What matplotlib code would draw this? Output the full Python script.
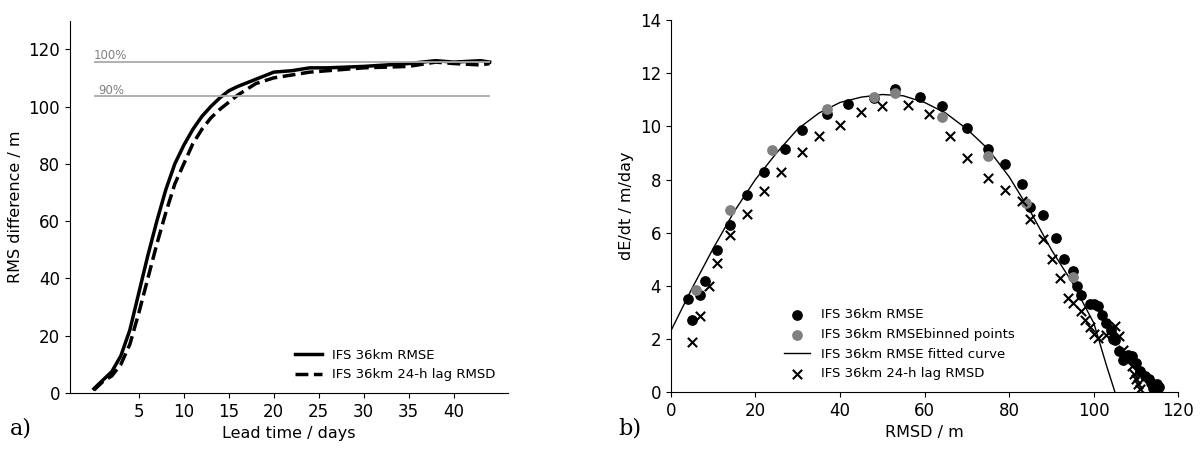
import matplotlib.pyplot as plt
import numpy as np

# panel a: RMS growth
lead_days = [0, 1, 2, 3, 4, 5, 6, 7, 8, 9, 10, 11, 12, 13, 14, 15, 16, 18, 20, 22, 24, 26, 30, 35, 38, 40, 43, 44]
rmse = [1.5, 4.5, 7.5, 13, 22, 35, 48, 60, 71, 80, 86.5, 92, 96.5, 100, 103, 105.5, 107, 109.5, 112, 112.5, 113.5, 113.5, 114, 115, 116, 115.5, 116, 115.5]
lag_rmsd = [1, 4, 6, 10, 17, 28, 40, 52, 63, 73, 80, 87, 92, 96, 99, 101.5, 104, 108, 110, 111, 112, 112.5, 113.5, 114, 115.5, 115, 114.5, 115]
level_100 = 115.5
level_90 = 103.5

# panel b: error growth rate
dot_x = [4, 5, 7, 8, 11, 14, 18, 22, 27, 31, 37, 42, 48, 53, 59, 64, 70, 75, 79, 83, 85, 88, 91, 93, 95, 96, 97, 99, 100, 101,
         102, 103, 104, 104.5, 105, 106, 107, 108, 109, 110, 111, 112, 113, 113.5, 114, 115, 115.5, 114]
dot_y = [3.5, 2.7, 3.65, 4.2, 5.35, 6.3, 7.4, 8.3, 9.15, 9.85, 10.45, 10.85, 11.05, 11.4, 11.1, 10.75, 9.95, 9.15, 8.6, 7.85,
         6.95, 6.65, 5.8, 5.0, 4.55, 4.0, 3.65, 3.3, 3.3, 3.25, 2.9, 2.6, 2.35, 2.0, 1.95, 1.55, 1.2, 1.4, 1.35, 1.1, 0.8, 0.6,
         0.5, 0.35, 0.3, 0.3, 0.2, 0.15]
bin_x = [6, 14, 24, 37, 48, 53, 64, 75, 84, 95]
bin_y = [3.85, 6.85, 9.1, 10.65, 11.1, 11.25, 10.35, 8.9, 7.1, 4.35]
fit_x = [0, 5, 10, 15, 20, 25, 30, 35, 40, 45, 50, 55, 60, 65, 70, 75, 80, 85, 90, 95, 100, 103, 105]
fit_y = [2.3, 3.9, 5.4, 6.8, 8.0, 9.0, 9.9, 10.5, 10.9, 11.1, 11.2, 11.15, 10.9, 10.5, 9.9, 9.15, 8.1, 6.8, 5.35, 4.1, 2.6, 1.0, 0.0]
cross_x = [5, 7, 9, 11, 14, 18, 22, 26, 31, 35, 40, 45, 50, 56, 61, 66, 70, 75, 79, 83, 85, 88, 90, 92, 94, 95, 97, 98, 99, 100,
           101, 103, 104, 105, 106, 107, 108, 109, 109.5, 110, 110.5, 111]
cross_y = [1.9, 2.85, 4.0, 4.85, 5.9, 6.7, 7.55, 8.3, 9.05, 9.65, 10.05, 10.55, 10.75, 10.8, 10.45, 9.65, 8.8, 8.05, 7.6, 7.2,
           6.5, 5.75, 5.0, 4.3, 3.55, 3.35, 3.05, 2.7, 2.45, 2.2, 2.05, 2.15, 2.35, 2.5, 2.1, 1.6, 1.2, 1.0, 0.7, 0.5, 0.3, 0.1]

fig = plt.figure(figsize=(12, 4.57), dpi=100)
ax1 = fig.add_axes([0.058, 0.14, 0.365, 0.815])
ax2 = fig.add_axes([0.559, 0.142, 0.423, 0.814])

ax1.plot(lead_days, rmse, color="black", lw=2.5, label="IFS 36km RMSE")
ax1.plot(lead_days, lag_rmsd, color="black", lw=2.5, ls="--", label="IFS 36km 24-h lag RMSD")
ax1.hlines([level_100, level_90], 0, 44, color="#aaaaaa", lw=1.3)
ax1.text(0, level_100 + 1, "100%", color="gray", fontsize=8.5)
ax1.text(0.5, level_90 + 1, "90%", color="gray", fontsize=8.5)
ax1.set_xlim(-2.7, 46)
ax1.set_ylim(0, 130)
ax1.set_xticks([5, 10, 15, 20, 25, 30, 35, 40])
ax1.set_yticks([0, 20, 40, 60, 80, 100, 120])
ax1.set_xlabel("Lead time / days", fontsize=11.5)
ax1.set_ylabel("RMS difference / m", fontsize=11.5)
ax1.tick_params(labelsize=12)
ax1.legend(loc="lower right", frameon=False, fontsize=9.5)

ax2.scatter(dot_x, dot_y, color="black", s=45, label="IFS 36km RMSE", zorder=3)
ax2.scatter(bin_x, bin_y, color="gray", s=45, label="IFS 36km RMSEbinned points", zorder=3)
ax2.plot(fit_x, fit_y, color="black", lw=1, label="IFS 36km RMSE fitted curve")
ax2.scatter(cross_x, cross_y, color="black", marker="x", s=45, label="IFS 36km 24-h lag RMSD", zorder=3)
ax2.set_xlim(0, 120)
ax2.set_ylim(0, 14)
ax2.set_xticks(range(0, 121, 20))
ax2.set_yticks(range(0, 15, 2))
ax2.set_xlabel("RMSD / m", fontsize=11.5)
ax2.set_ylabel("dE/dt / m/day", fontsize=11.5)
ax2.tick_params(labelsize=12)
ax2.legend(loc="lower center", bbox_to_anchor=(0.45, 0.0), frameon=False, fontsize=9.5)

for ax in (ax1, ax2):
    ax.spines["top"].set_visible(False)
    ax.spines["right"].set_visible(False)

fig.text(0.008, 0.05, "a)", fontsize=16, family="DejaVu Serif")
fig.text(0.515, 0.05, "b)", fontsize=16, family="DejaVu Serif")

fig.savefig("out.png", dpi=100)
